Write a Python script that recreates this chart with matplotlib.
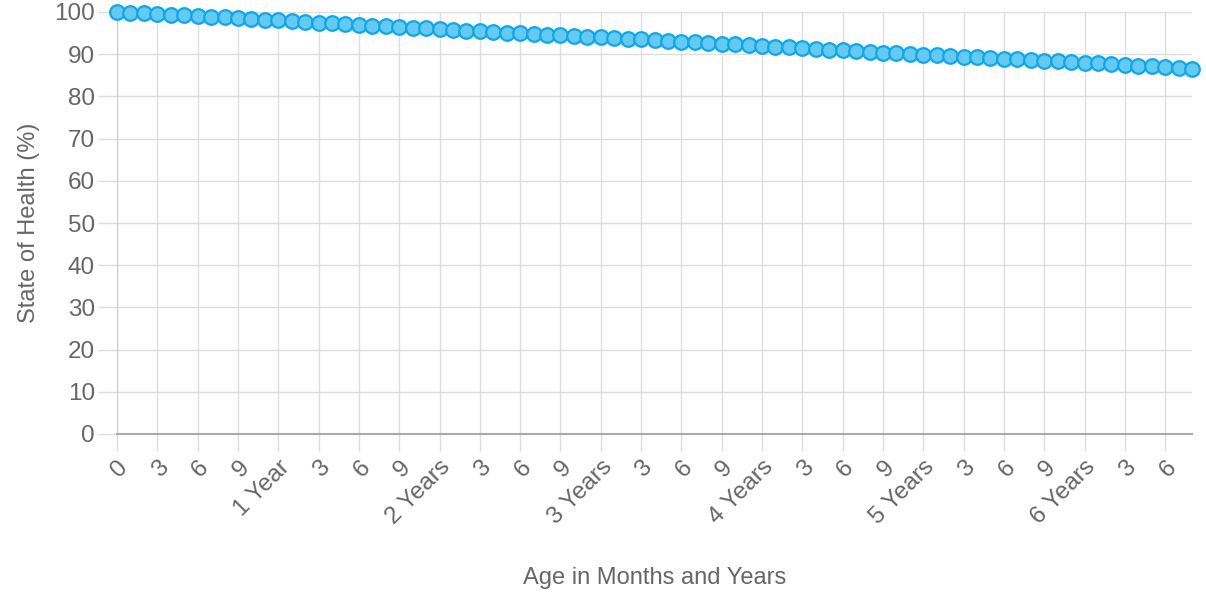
import numpy as np
import matplotlib.pyplot as plt

# monthly age (months) and state of health (%)
months = list(range(0, 81))
soh = [
    100.0, 99.8, 99.7, 99.5, 99.3, 99.2, 99.0, 98.8, 98.7, 98.5,
    98.3, 98.2, 98.0, 97.8, 97.7, 97.5, 97.3, 97.1, 97.0, 96.8,
    96.6, 96.5, 96.3, 96.1, 96.0, 95.8, 95.6, 95.5, 95.3, 95.1,
    95.0, 94.8, 94.6, 94.5, 94.3, 94.1, 94.0, 93.8, 93.6, 93.5,
    93.3, 93.1, 93.0, 92.8, 92.6, 92.4, 92.3, 92.1, 91.9, 91.8,
    91.6, 91.4, 91.3, 91.1, 90.9, 90.8, 90.6, 90.4, 90.3, 90.1,
    89.9, 89.8, 89.6, 89.4, 89.3, 89.1, 88.9, 88.8, 88.6, 88.4,
    88.3, 88.1, 87.9, 87.8, 87.6, 87.4, 87.2, 87.1, 86.9, 86.7,
    86.5,
]

x_ticks = list(range(0, 79, 3))
x_labels = [
    "0", "3", "6", "9", "1 Year", "3", "6", "9", "2 Years", "3", "6", "9",
    "3 Years", "3", "6", "9", "4 Years", "3", "6", "9", "5 Years", "3", "6", "9",
    "6 Years", "3", "6",
]
y_ticks = list(range(0, 101, 10))

TEXT = "#666666"
GRID = "#dddddd"
LINE = "#0aa8ec"

plt.rcParams["font.family"] = ["Liberation Sans", "DejaVu Sans"]

fig = plt.figure(figsize=(12.06, 6.02), dpi=100)
ax = fig.add_axes([117 / 1206, 1 - 434 / 602, (1192 - 117) / 1206, (434 - 12) / 602])

ax.plot(months, soh, color=LINE, linewidth=2.6, marker="o", markersize=10.5,
        markerfacecolor="#66c9f2", markeredgecolor=LINE, markeredgewidth=1.6,
        zorder=3, clip_on=False)

ax.set_xlim(0, 80)
ax.set_ylim(0, 100)
ax.set_xticks(x_ticks)
ax.set_xticklabels(x_labels, rotation=45, ha="right", rotation_mode="anchor")
ax.set_yticks(y_ticks)

ax.grid(True, color=GRID, linewidth=1)
ax.set_axisbelow(True)
ax.tick_params(axis="both", colors=GRID, labelcolor=TEXT, labelsize=17.5)
ax.tick_params(axis="y", length=14, width=1, pad=2)
ax.tick_params(axis="x", length=12, width=1, pad=4)

for side in ["top", "right"]:
    ax.spines[side].set_visible(False)
ax.spines["left"].set_color("#cccccc")
ax.spines["bottom"].set_color("#aaaaaa")
ax.spines["bottom"].set_linewidth(1.5)

ax.set_ylabel("State of Health (%)", color=TEXT, fontsize=17, labelpad=10)
fig.text((117 + 1192) / 2 / 1206, 1 - 578 / 602, "Age in Months and Years",
         color=TEXT, fontsize=17, ha="center", va="center")

fig.savefig("out.png", dpi=100)
